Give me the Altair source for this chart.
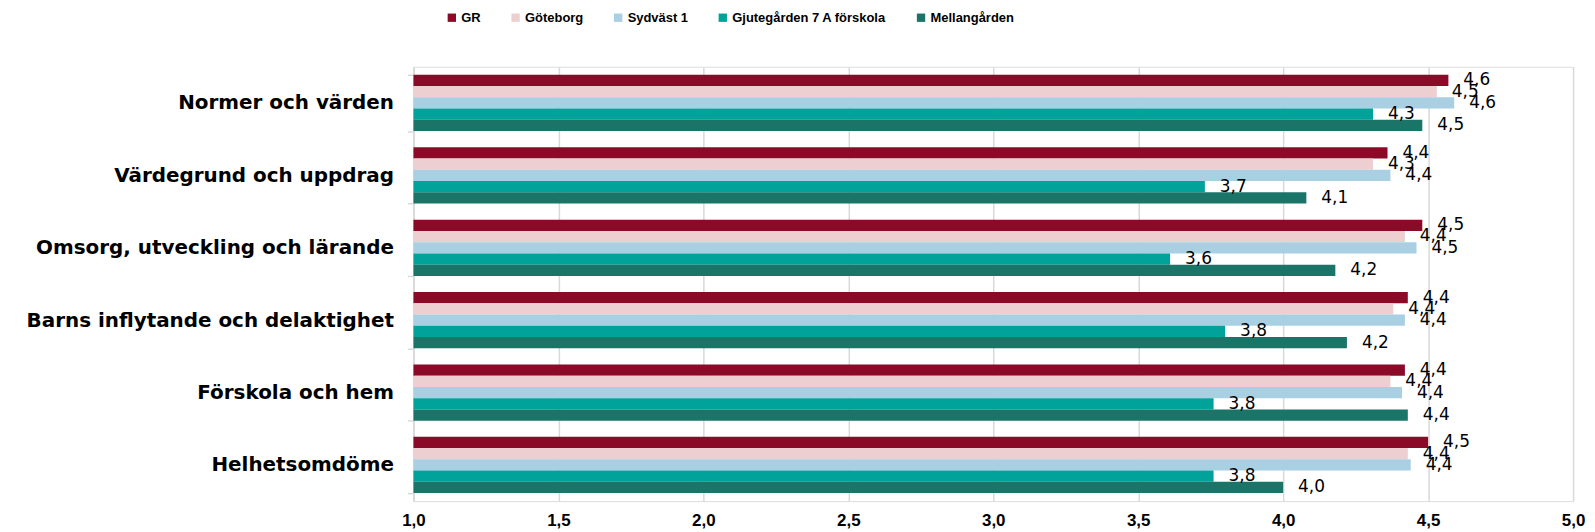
import altair as alt
import pandas as pd

categories = [
    "Normer och värden",
    "Värdegrund och uppdrag",
    "Omsorg, utveckling och lärande",
    "Barns inflytande och delaktighet\u00a0",
    "Förskola och hem\u00a0",
    "Helhetsomdöme",
]
series = ["GR", "Göteborg", "Sydväst 1", "Gjutegården 7 A förskola", "Mellangården"]
colors = ["#8B0A28", "#EDCFD1", "#A8CFE2", "#00A29A", "#1B7468"]

gr = [4.57, 4.36, 4.48, 4.43, 4.42, 4.50]
goteborg = [4.53, 4.31, 4.42, 4.38, 4.37, 4.43]
sydvast = [4.59, 4.37, 4.46, 4.42, 4.41, 4.44]
gjutegarden = [4.31, 3.73, 3.61, 3.80, 3.76, 3.76]
mellangarden = [4.48, 4.08, 4.18, 4.22, 4.43, 4.00]

tick_values = [1.0, 1.5, 2.0, 2.5, 3.0, 3.5, 4.0, 4.5, 5.0]

rows = []
for s, vals in zip(series, [gr, goteborg, sydvast, gjutegarden, mellangarden]):
    for c, v in zip(categories, vals):
        rows.append({"category": c, "series": s, "value": v})
df = pd.DataFrame(rows)

y_enc = alt.Y(
    "category:N",
    sort=categories,
    scale=alt.Scale(paddingInner=0.223, paddingOuter=0.1115),
    axis=alt.Axis(
        title=None,
        labelFont="DejaVu Sans",
        labelFontWeight="bold",
        labelFontSize=20,
        labelColor="#000000",
        labelPadding=14,
        labelLimit=600,
        tickSize=6,
        tickColor="#D9D9D9",
        tickWidth=1.5,
        tickBand="extent",
        domainColor="#D9D9D9",
        domainWidth=1.5,
    ),
)
yoff_enc = alt.YOffset("series:N", sort=series, scale=alt.Scale(paddingInner=0, paddingOuter=0))

x_enc = alt.X(
    "value:Q",
    scale=alt.Scale(domain=[1, 5], nice=False, zero=False),
    axis=alt.Axis(
        title=None,
        values=tick_values,
        labelExpr="replace(format(datum.value, '.1f'), '.', ',')",
        labelFont="Liberation Sans Narrow, Liberation Sans",
        labelFontWeight="bold",
        labelFontSize=17,
        labelColor="#000000",
        labelPadding=11,
        labelFlush=False,
        labelOverlap=False,
        domain=False,
        ticks=False,
        grid=True,
        gridColor="#D9D9D9",
        gridWidth=1.5,
    ),
)

bars = alt.Chart(df).mark_bar().encode(
    x=x_enc,
    x2=alt.datum(1),
    y=y_enc,
    yOffset=yoff_enc,
    color=alt.Color(
        "series:N",
        sort=series,
        scale=alt.Scale(domain=series, range=colors),
        legend=alt.Legend(
            title=None,
            orient="none",
            direction="horizontal",
            legendX=32,
            legendY=-56,
            symbolType="square",
            symbolSize=70,
            symbolStrokeWidth=0,
            labelFont="Liberation Sans",
            labelFontWeight="bold",
            labelFontSize=13,
            labelColor="#000000",
            labelOffset=3,
            labelLimit=400,
            columnPadding=28,
            padding=0,
        ),
    ),
)

labels = alt.Chart(df).mark_text(
    align="left", baseline="middle", dx=15, font="DejaVu Sans", fontSize=17, color="#000000"
).encode(
    x=alt.X("value:Q", scale=alt.Scale(domain=[1, 5], nice=False, zero=False)),
    y=alt.Y("category:N", sort=categories),
    yOffset=alt.YOffset("series:N", sort=series),
    text=alt.Text("lbl:N"),
).transform_calculate(lbl="replace(format(datum.value, '.1f'), '.', ',')")

chart = (
    alt.layer(bars, labels)
    .properties(
        width=1164,
        height=436,
        autosize=alt.AutoSizeParams(type="none"),
        padding={"left": 407, "top": 58, "right": 14, "bottom": 30},
    )
    .configure_view(stroke=None)
    .configure(background="#FFFFFF")
)

chart.save("out.html", embed_options={"renderer": "svg", "actions": False})
